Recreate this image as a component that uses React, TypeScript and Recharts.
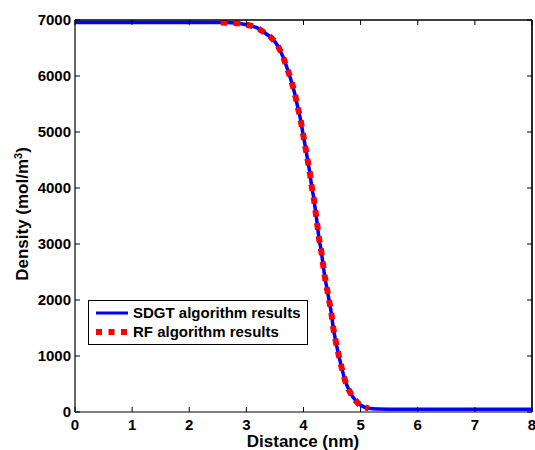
import { Legend, Line, LineChart, ReferenceLine, XAxis, YAxis } from 'recharts'

// distance (nm) and density (mol/m^3)
const sdgtX = [0, 2.5, 2.74, 2.96, 3.18, 3.35, 3.45, 3.54, 3.64, 3.72, 3.79, 3.85, 3.9, 3.95, 3.99, 4.03, 4.07, 4.11, 4.14, 4.18, 4.21, 4.24, 4.27, 4.31, 4.34, 4.37, 4.41, 4.45, 4.49, 4.52, 4.56, 4.61, 4.66, 4.72, 4.81, 4.94, 5.14, 5.3, 5.5, 8]
const sdgtY = [6955, 6955, 6950, 6923, 6863, 6750, 6670, 6554, 6345, 6120, 5898, 5673, 5441, 5214, 4976, 4750, 4512, 4280, 4054, 3816, 3589, 3357, 3113, 2880, 2655, 2434, 2208, 1982, 1745, 1512, 1286, 1048, 827, 589, 363, 173, 66, 52, 50, 50]

const rfX = [2.55, 2.74, 2.96, 3.18, 3.35, 3.45, 3.54, 3.64, 3.72, 3.79, 3.85, 3.9, 3.95, 3.99, 4.03, 4.07, 4.11, 4.14, 4.18, 4.21, 4.24, 4.27, 4.31, 4.34, 4.37, 4.41, 4.45, 4.49, 4.52, 4.56, 4.61, 4.66, 4.72, 4.81, 4.94, 5.14]
const rfY = [6955, 6950, 6923, 6863, 6750, 6670, 6554, 6345, 6120, 5898, 5673, 5441, 5214, 4976, 4750, 4512, 4280, 4054, 3816, 3589, 3357, 3113, 2880, 2655, 2434, 2208, 1982, 1745, 1512, 1286, 1048, 827, 589, 363, 173, 66]

const xTicks = [0, 1, 2, 3, 4, 5, 6, 7, 8]
const yTicks = [0, 1000, 2000, 3000, 4000, 5000, 6000, 7000]

const sdgt = sdgtX.map((x, i) => ({ x, y: sdgtY[i] }))
const rf = rfX.map((x, i) => ({ x, y: rfY[i] }))

const FONT = '"Liberation Sans", Arial, sans-serif'

const BottomTick = ({ x, y, payload }: any) => (
  <g>
    <line x1={x} y1={y} x2={x} y2={y - 5} stroke="#000" />
    <text x={x} y={y + 18} textAnchor="middle" fontSize={15} fontWeight="bold" fontFamily={FONT} fill="#000">
      {payload.value}
    </text>
  </g>
)

const TopTick = ({ x, y }: any) => <line x1={x} y1={y} x2={x} y2={y + 5} stroke="#000" />

const LeftTick = ({ x, y, payload }: any) => (
  <g>
    <line x1={x} y1={y} x2={x + 5} y2={y} stroke="#000" />
    <text x={x - 4} y={y + 5} textAnchor="end" fontSize={15} fontWeight="bold" fontFamily={FONT} fill="#000">
      {payload.value}
    </text>
  </g>
)

const RightTick = ({ x, y }: any) => <line x1={x} y1={y} x2={x - 5} y2={y} stroke="#000" />

const LegendBox = () => (
  <div
    style={{
      border: '1px solid #000',
      background: '#fff',
      width: 218,
      height: 41,
      boxSizing: 'content-box',
      fontFamily: FONT,
      fontWeight: 'bold',
      fontSize: 15,
      lineHeight: '19px',
      paddingTop: 2,
    }}
  >
    <div style={{ display: 'flex', alignItems: 'center', height: 19 }}>
      <svg width={44} height={19}>
        <line x1={7} y1={10} x2={39} y2={10} stroke="#0000ff" strokeWidth={3} />
      </svg>
      <span>SDGT algorithm results</span>
    </div>
    <div style={{ display: 'flex', alignItems: 'center', height: 19 }}>
      <svg width={44} height={19}>
        <line x1={7} y1={10} x2={39} y2={10} stroke="#ff0000" strokeWidth={6} strokeDasharray="6 6.5" />
      </svg>
      <span>RF algorithm results</span>
    </div>
  </div>
)

export default function App() {
  return (
    <div style={{ position: 'absolute', left: 0, top: 0, width: 535, height: 450, overflow: 'hidden' }}>
      <LineChart width={545} height={450} margin={{ top: 10, right: 3, left: 25, bottom: 8 }}>
        <XAxis
          xAxisId="x"
          type="number"
          dataKey="x"
          domain={[0, 8]}
          ticks={xTicks}
          interval={0}
          allowDataOverflow
          height={30}
          tickSize={0}
          tickMargin={0}
          tickLine={false}
          axisLine={{ stroke: '#000', strokeWidth: 1.2 }}
          tick={<BottomTick />}
          label={{
            content: () => (
              <text x={303} y={447} textAnchor="middle" fontSize={17} fontWeight="bold" fontFamily={FONT} fill="#000">
                Distance (nm)
              </text>
            ),
          }}
        />
        <XAxis
          xAxisId="xt"
          orientation="top"
          type="number"
          dataKey="x"
          domain={[0, 8]}
          ticks={xTicks}
          interval={0}
          allowDataOverflow
          height={10}
          tickSize={0}
          tickMargin={0}
          tickLine={false}
          axisLine={{ stroke: '#000', strokeWidth: 1.2 }}
          tick={<TopTick />}
        />
        <YAxis
          yAxisId="y"
          type="number"
          domain={[0, 7000]}
          ticks={yTicks}
          interval={0}
          allowDataOverflow
          width={50}
          tickSize={0}
          tickMargin={0}
          tickLine={false}
          axisLine={{ stroke: '#000', strokeWidth: 1.2 }}
          tick={<LeftTick />}
          label={{
            content: () => (
              <text
                transform="translate(28, 214) rotate(-90)"
                textAnchor="middle"
                fontSize={17}
                fontWeight="bold"
                fontFamily={FONT}
                fill="#000"
              >
                Density (mol/m
                <tspan baselineShift="super" fontSize={11}>
                  3
                </tspan>
                )
              </text>
            ),
          }}
        />
        <YAxis
          yAxisId="yr"
          orientation="right"
          type="number"
          domain={[0, 7000]}
          ticks={yTicks}
          interval={0}
          allowDataOverflow
          width={10}
          tickSize={0}
          tickMargin={0}
          tickLine={false}
          axisLine={{ stroke: '#000', strokeWidth: 1.2 }}
          tick={<RightTick />}
        />
        {/* box edges, in case the top / right axes are skipped */}
        <ReferenceLine xAxisId="x" yAxisId="y" y={7000} stroke="#000" strokeWidth={1.2} />
        <ReferenceLine xAxisId="x" yAxisId="y" x={8} stroke="#000" strokeWidth={1.2} />
        {/* invisible series so the top / right box axes get drawn */}
        <Line
          xAxisId="xt"
          yAxisId="yr"
          data={sdgt}
          dataKey="y"
          stroke="none"
          dot={false}
          activeDot={false}
          legendType="none"
          isAnimationActive={false}
        />
        <Line
          xAxisId="x"
          yAxisId="y"
          data={sdgt}
          dataKey="y"
          type="monotone"
          stroke="#0000ff"
          strokeWidth={3.5}
          dot={false}
          isAnimationActive={false}
        />
        <Line
          xAxisId="x"
          yAxisId="y"
          data={rf}
          dataKey="y"
          type="monotone"
          stroke="#ff0000"
          strokeWidth={6}
          strokeDasharray="6.5 6.5"
          dot={false}
          isAnimationActive={false}
        />
        <Legend
          layout="vertical"
          align="center"
          verticalAlign="middle"
          content={<LegendBox />}
          wrapperStyle={{ left: 88, top: 300, width: 220 }}
        />
      </LineChart>
    </div>
  )
}
